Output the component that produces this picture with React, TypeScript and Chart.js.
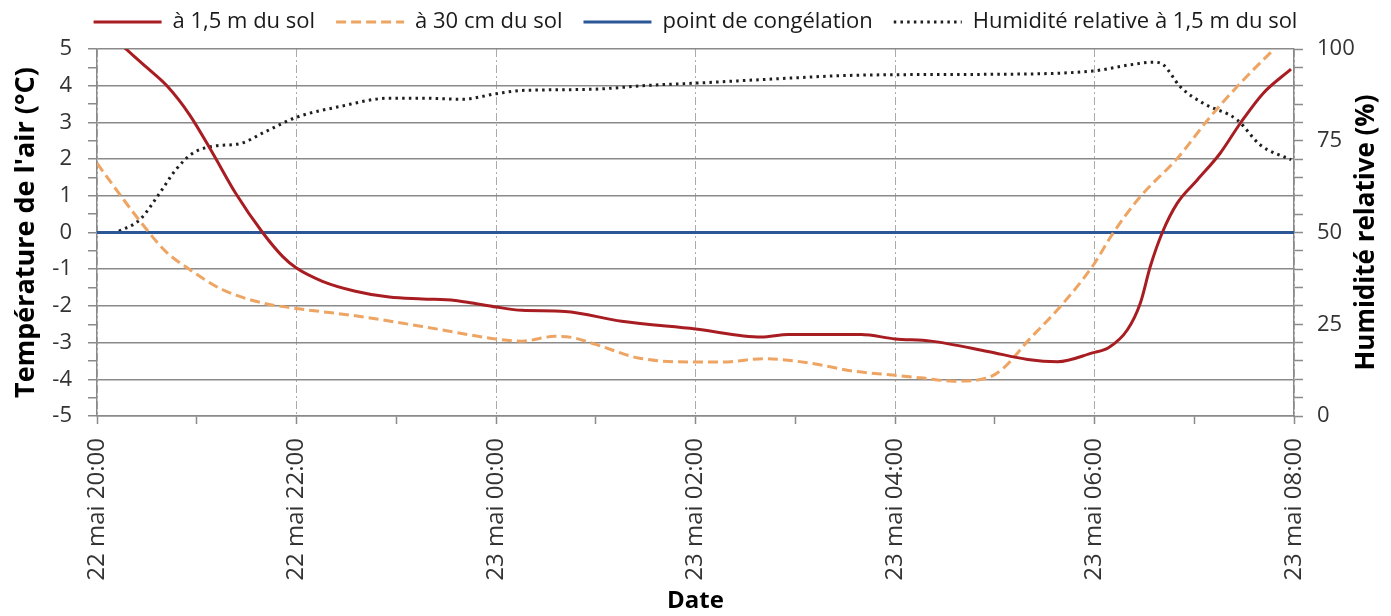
import React, { useEffect, useRef } from 'react';
import { Chart, registerables } from 'chart.js';

Chart.register(...registerables);

// ---- Data (x in hours after 22 mai 20:00) ----
const HOURS_AIR = [0, 0.29, 0.51, 0.71, 0.93, 1.16, 1.39, 1.66, 1.86, 2.0, 2.26, 2.59, 2.93, 3.26, 3.59, 3.76, 4.0, 4.26, 4.69, 5.26, 6.0, 6.66, 6.93, 7.66, 8.0, 8.36, 8.93, 9.33, 9.63, 9.98, 10.14, 10.33, 10.46, 10.56, 10.68, 10.83, 11.03, 11.26, 11.46, 11.69, 11.97];
const TEMP_AIR = [5.7, 5.0, 4.47, 3.97, 3.2, 2.16, 1.07, 0, -0.65, -0.97, -1.33, -1.6, -1.76, -1.81, -1.85, -1.92, -2.03, -2.12, -2.15, -2.42, -2.63, -2.85, -2.78, -2.78, -2.9, -2.96, -3.24, -3.46, -3.52, -3.28, -3.14, -2.65, -1.92, -0.92, 0, 0.8, 1.43, 2.16, 2.97, 3.79, 4.45];

const HOURS_SOIL = [0, 0.23, 0.46, 0.69, 0.93, 1.26, 1.66, 2.0, 2.59, 3.26, 4.0, 4.26, 4.59, 4.76, 5.0, 5.43, 6.0, 6.26, 6.69, 7.13, 7.59, 8.0, 8.26, 8.59, 8.93, 9.09, 9.33, 9.66, 9.98, 10.19, 10.46, 10.83, 11.16, 11.49, 11.79, 12];
const TEMP_SOIL = [1.89, 1.03, 0.21, -0.52, -1.01, -1.56, -1.92, -2.07, -2.27, -2.56, -2.9, -2.96, -2.83, -2.86, -3.05, -3.42, -3.53, -3.53, -3.44, -3.55, -3.78, -3.89, -3.96, -4.05, -3.96, -3.69, -2.96, -2.01, -0.92, 0, 0.98, 2.02, 3.15, 4.15, 4.97, 5.55];

const HOURS_FREEZE = [0, 12];
const TEMP_FREEZE = [0, 0];

const HOURS_HUM = [0.22, 0.43, 0.63, 0.79, 0.96, 1.19, 1.43, 1.69, 2.0, 2.43, 2.93, 3.26, 3.66, 4.0, 4.26, 4.93, 5.59, 6.0, 6.76, 7.43, 8.0, 8.93, 9.98, 10.36, 10.59, 10.69, 10.86, 11.09, 11.43, 11.66, 11.97];
const HUMIDITY = [50.3, 53.5, 60.8, 67.1, 71.6, 73.6, 74.2, 77.5, 81.4, 84.3, 86.6, 86.6, 86.3, 87.8, 88.7, 89.0, 90.2, 90.7, 91.8, 92.7, 93.0, 93.1, 94.0, 95.7, 96.4, 95.7, 89.7, 85.2, 80.7, 73.9, 69.8];

const X_TICK_LABELS = ['22 mai 20:00', '22 mai 22:00', '23 mai 00:00', '23 mai 02:00', '23 mai 04:00', '23 mai 06:00', '23 mai 08:00'];

const SERIES_NAMES = ['à 1,5 m du sol', 'à 30 cm du sol', 'point de congélation', 'Humidité relative à 1,5 m du sol'];
const LEFT_TITLE = "Température de l'air (°C)";
const RIGHT_TITLE = 'Humidité relative (%)';
const X_TITLE = 'Date';

const FONT = '"Open Sans", "Noto Sans", sans-serif';
const LEGEND_TEXT = '#1a1a1a';

const zip = (xs: number[], ys: number[]) => xs.map((x, i) => ({ x, y: ys[i] }));

export default function App() {
  const ref = useRef<HTMLCanvasElement | null>(null);

  useEffect(() => {
    if (!ref.current) return;

    const legendFix = {
      id: 'legendFix',
      beforeInit(chart: any) {
        const legend = chart.legend;
        if (legend) {
          const orig = legend.fit;
          legend.fit = function () {
            orig.call(this);
            this.height = 59;
          };
        }
      },
    };

    const rightTitle = {
      id: 'rightTitle',
      afterDraw(chart: any) {
        const ctx = chart.ctx;
        const area = chart.chartArea;
        ctx.save();
        ctx.translate(1367, (area.top + area.bottom) / 2);
        ctx.rotate(-Math.PI / 2);
        ctx.font = 'bold 26px ' + FONT;
        ctx.textAlign = 'center';
        ctx.textBaseline = 'middle';
        ctx.fillStyle = '#000';
        ctx.fillText(RIGHT_TITLE, 0, 0);
        ctx.restore();
      },
    };

    const chart = new Chart(ref.current, {
      type: 'line',
      data: {
        datasets: [
          {
            label: SERIES_NAMES[0],
            data: zip(HOURS_AIR, TEMP_AIR),
            borderColor: '#A81D22',
            backgroundColor: '#A81D22',
            borderWidth: 3,
            pointRadius: 0,
            cubicInterpolationMode: 'monotone',
            yAxisID: 'y',
          },
          {
            label: SERIES_NAMES[1],
            data: zip(HOURS_SOIL, TEMP_SOIL),
            borderColor: '#EEA462',
            backgroundColor: '#EEA462',
            borderWidth: 3,
            borderDash: [10, 5],
            pointRadius: 0,
            cubicInterpolationMode: 'monotone',
            yAxisID: 'y',
          },
          {
            label: SERIES_NAMES[2],
            data: zip(HOURS_FREEZE, TEMP_FREEZE),
            borderColor: '#2B5797',
            backgroundColor: '#2B5797',
            borderWidth: 3,
            pointRadius: 0,
            yAxisID: 'y',
          },
          {
            label: SERIES_NAMES[3],
            data: zip(HOURS_HUM, HUMIDITY),
            borderColor: '#1e1e1e',
            backgroundColor: '#1e1e1e',
            borderWidth: 3,
            borderDash: [2.5, 4.2],
            pointRadius: 0,
            cubicInterpolationMode: 'monotone',
            yAxisID: 'y1',
          },
        ],
      },
      options: {
        animation: false,
        responsive: true,
        maintainAspectRatio: false,
        layout: { padding: { top: -10, left: 0, right: 0, bottom: 0 } },
        plugins: {
          legend: {
            display: true,
            position: 'top',
            labels: {
              usePointStyle: true,
              pointStyle: 'line',
              pointStyleWidth: 68,
              boxHeight: 22,
              padding: 21,
              color: LEGEND_TEXT,
              font: { family: FONT, size: 22 },
              generateLabels: (chart: any) =>
                chart.data.datasets.map((ds: any, i: number) => ({
                  text: ds.label,
                  fillStyle: ds.borderColor,
                  strokeStyle: ds.borderColor,
                  lineWidth: ds.borderWidth,
                  lineDash: ds.borderDash || [],
                  lineDashOffset: 0,
                  lineCap: 'butt',
                  pointStyle: 'line',
                  fontColor: LEGEND_TEXT,
                  hidden: false,
                  datasetIndex: i,
                })),
            },
          },
          tooltip: { enabled: false },
        },
        scales: {
          x: {
            type: 'linear',
            min: 0,
            max: 12,
            afterFit(scale: any) {
              scale.height = 200;
            },
            afterBuildTicks(scale: any) {
              const t = [];
              for (let h = 0; h <= 12; h++) t.push({ value: h });
              scale.ticks = t;
            },
            ticks: {
              autoSkip: false,
              minRotation: 90,
              maxRotation: 90,
              padding: 14,
              color: '#333',
              font: { family: FONT, size: 24 },
              callback: (v: any) => (Number(v) % 2 === 0 ? X_TICK_LABELS[Number(v) / 2] : ''),
            },
            grid: {
              color: (ctx: any) => (ctx.tick && ctx.tick.value % 2 === 0 ? '#ABABAB' : 'rgba(0,0,0,0)'),
              lineWidth: 1,
              tickColor: '#8A8A8A',
              tickLength: 8,
              tickWidth: 1.5,
              tickBorderDash: [],
            },
            border: { display: true, color: '#8A8A8A', width: 1.5, dash: [8, 3, 2, 3] },
            title: {
              display: true,
              text: X_TITLE,
              color: '#000',
              font: { family: FONT, size: 24, weight: 'bold' },
              padding: { top: 0, bottom: 0 },
            },
          },
          y: {
            type: 'linear',
            position: 'left',
            min: -5,
            max: 5,
            afterFit(scale: any) {
              scale.width = 97;
            },
            ticks: {
              stepSize: 0.5,
              autoSkip: false,
              padding: 16,
              color: '#333',
              font: { family: FONT, size: 22 },
              callback: (v: any) => (Number.isInteger(Number(v)) ? String(v) : ''),
            },
            grid: {
              color: (ctx: any) => (ctx.tick && Number.isInteger(ctx.tick.value) ? '#8A8A8A' : 'rgba(0,0,0,0)'),
              lineWidth: 1.5,
              tickColor: '#8A8A8A',
              tickLength: 9,
              tickWidth: 1.5,
            },
            border: { display: true, color: '#8A8A8A', width: 1.5 },
            title: {
              display: true,
              text: LEFT_TITLE,
              color: '#000',
              font: { family: FONT, size: 27, weight: 'bold' },
              padding: { top: 10, bottom: 0 },
            },
          },
          y1: {
            type: 'linear',
            position: 'right',
            min: 0,
            max: 100,
            afterFit(scale: any) {
              scale.width = 97;
            },
            ticks: {
              stepSize: 5,
              autoSkip: false,
              padding: 14,
              color: '#333',
              font: { family: FONT, size: 22 },
              callback: (v: any) => (Number(v) % 25 === 0 ? String(v) : ''),
            },
            grid: {
              drawOnChartArea: false,
              tickColor: '#8A8A8A',
              tickLength: 9,
              tickWidth: 1.5,
            },
            border: { display: true, color: '#8A8A8A', width: 1.5 },
            title: { display: false },
          },
        },
      },
      plugins: [legendFix, rightTitle],
    } as any);

    return () => chart.destroy();
  }, []);

  return (
    <div style={{ position: 'absolute', left: 0, top: 0, width: 1391, height: 616, background: '#fff' }}>
      <canvas ref={ref} />
    </div>
  );
}
